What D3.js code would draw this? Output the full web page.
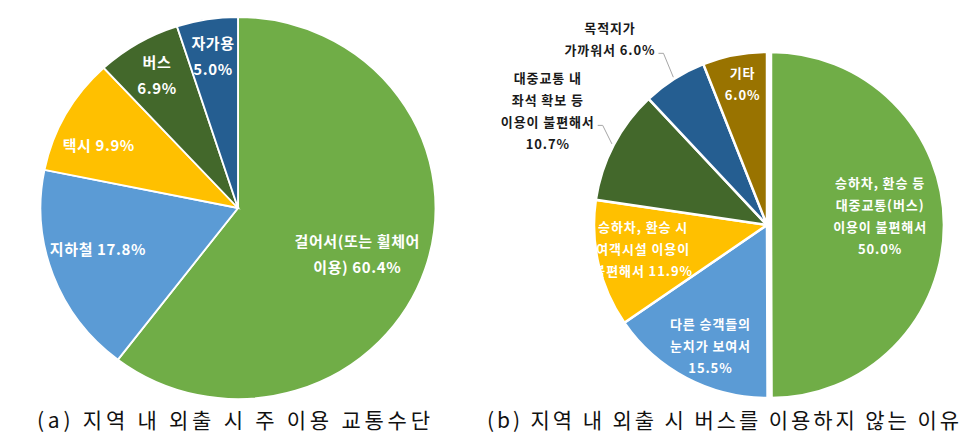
<!DOCTYPE html>
<html><head><meta charset="utf-8">
<script src="https://cdn.jsdelivr.net/npm/d3@7"></script>
<style>body{margin:0;background:#fff} svg{display:block}</style>
</head><body>
<svg id="c" width="978" height="446"></svg>
<script>
// ---- data ----
const modeNames = ["걸어서(또는 휠체어 이용)", "지하철", "택시", "버스", "자가용"];
const modeValues = [60.4, 17.8, 9.9, 6.9, 5.0];
const modeLabelLines = [["걸어서(또는 휠체어", "이용) {v}"], ["지하철 {v}"], ["택시 {v}"], ["버스", "{v}"], ["자가용", "{v}"]];

const reasonNames = ["승하차, 환승 등 대중교통(버스) 이용이 불편해서", "다른 승객들의 눈치가 보여서", "승하차, 환승 시 여객시설 이용이 불편해서", "대중교통 내 좌석 확보 등 이용이 불편해서", "목적지가 가까워서", "기타"];
const reasonValues = [50.0, 15.5, 11.9, 10.7, 6.0, 6.0];
const reasonLabelLines = [["승하차, 환승 등", "대중교통(버스)", "이용이 불편해서", "{v}"], ["다른 승객들의", "눈치가 보여서", "{v}"], ["승하차, 환승 시", "여객시설 이용이", "불편해서 {v}"], ["대중교통 내", "좌석 확보 등", "이용이 불편해서", "{v}"], ["목적지가", "가까워서 {v}"], ["기타", "{v}"]];

const captions = ["(a) 지역 내 외출 시 주 이용 교통수단", "(b) 지역 내 외출 시 버스를 이용하지 않는 이유"];

// ---- styles / layout ----
const modeColors = ["#70AD47", "#5B9BD5", "#FFC000", "#43682B", "#255E91"];
const reasonColors = ["#70AD47", "#5B9BD5", "#FFC000", "#43682B", "#255E91", "#997300"];
const FONT = "'Noto Sans CJK KR', 'Noto Sans', sans-serif";
const fmt = v => d3.format(".1f")(v) + "%";

const svg = d3.select("#c");

function drawPie(cfg) {
  const pie = d3.pie().sort(null).value(d => d)(cfg.values);
  const arc = d3.arc().innerRadius(0).outerRadius(cfg.r);
  const pt = (ang, rad) => [rad * Math.sin(ang) * cfg.sx, -rad * Math.cos(ang)];
  const g = svg.append("g").attr("transform", `translate(${cfg.cx},${cfg.cy})`);
  const gs = g.append("g").attr("transform", `scale(${cfg.sx},1)`);
  gs.selectAll("path").data(pie).join("path")
    .attr("d", arc)
    .attr("fill", (d, i) => cfg.colors[i])
    .attr("stroke", "#fff")
    .attr("stroke-width", cfg.stroke)
    .attr("transform", (d, i) => {
      const m = (d.startAngle + d.endAngle) / 2, e = cfg.explode[i] || 0;
      return `translate(${e * Math.sin(m)},${-e * Math.cos(m)})`;
    });
  pie.forEach((d, i) => {
    const m = (d.startAngle + d.endAngle) / 2;
    const e = cfg.explode[i] || 0;
    const la = m + (cfg.angOff[i] || 0) * Math.PI / 180;
    const [lx, ly] = pt(la, cfg.r * cfg.frac[i]);
    const ex = e * Math.sin(m) * cfg.sx, ey = -e * Math.cos(m);
    const lines = cfg.lines[i].map(s => s.replace("{v}", fmt(cfg.values[i])));
    const n = lines.length;
    const t = g.append("text")
      .attr("font-family", FONT).attr("font-size", cfg.fs).attr("font-weight", 700)
      .attr("letter-spacing", cfg.ls)
      .attr("fill", cfg.outside[i] ? "#1a1a1a" : "#fff")
      .attr("text-anchor", "middle");
    const tsp = [];
    lines.forEach((s, k) => {
      tsp.push(t.append("tspan").attr("x", lx + ex)
        .attr("y", ly + ey + (k - (n - 1) / 2) * cfg.lh)
        .attr("dominant-baseline", "central").text(s));
    });
    if (cfg.outside[i]) {
      const bb = tsp[cfg.leader[i]].node().getBBox();
      const y0 = ly + (cfg.leader[i] - (n - 1) / 2) * cfg.lh + 4;
      const x0 = bb.x + bb.width + 3;
      const [px, py] = pt(m, cfg.r + 2);
      g.append("polyline")
        .attr("points", [[x0, y0], [x0 + 5, y0], [px, py]].map(p => p.join(",")).join(" "))
        .attr("fill", "none").attr("stroke", "#a6a6a6").attr("stroke-width", 1);
    }
  });
}

drawPie({
  values: modeValues, colors: modeColors, lines: modeLabelLines,
  cx: 238, cy: 208, r: 191, sx: 1.034, stroke: 1.8,
  explode: [0, 0, 0, 0, 0],
  frac: [0.65, 0.74, 0.78, 0.81, 0.81], angOff: [3, 4, -4, 0, 0],
  outside: [false, false, false, false, false], leader: [],
  fs: 15, lh: 26, ls: 0.6
});

drawPie({
  values: reasonValues, colors: reasonColors, lines: reasonLabelLines,
  cx: 767, cy: 225, r: 173, sx: 1, stroke: 2.5,
  explode: [4, 0, 0, 0, 0, 0],
  frac: [0.633, 0.768, 0.729, 1.43, 1.41, 0.83], angOff: [-5, -2.5, 2.3, 0, -7.7, 1],
  outside: [false, false, false, true, true, false], leader: [0, 0, 0, 2, 1, 0],
  fs: 13, lh: 22, ls: 0.9
});

// captions
const capX = [37, 487], capW = [393, 472];
svg.selectAll("text.cap").data(captions).join("text").attr("class", "cap")
  .attr("x", (d, i) => capX[i]).attr("y", 428)
  .attr("font-family", FONT).attr("font-size", 21).attr("fill", "#111")
  .attr("textLength", (d, i) => capW[i]).attr("lengthAdjust", "spacing")
  .text(d => d);
</script>
</body></html>
